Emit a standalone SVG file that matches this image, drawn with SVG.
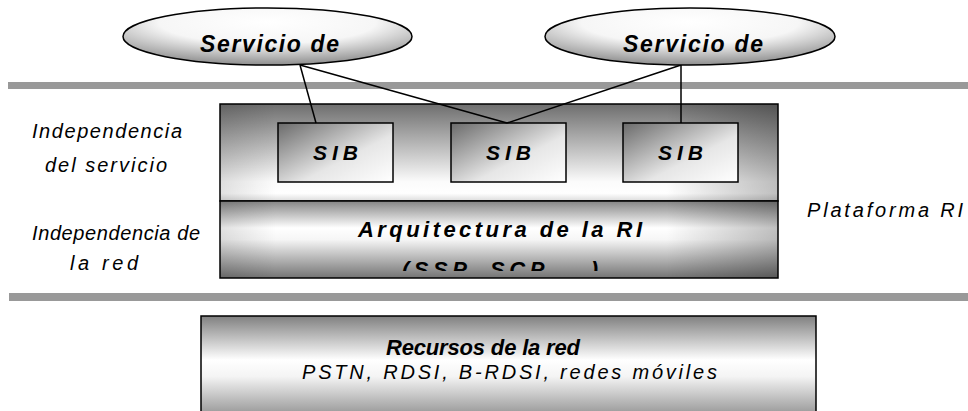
<svg xmlns="http://www.w3.org/2000/svg" width="968" height="411" viewBox="0 0 968 411">
  <style>
    .t { font-family: "Liberation Sans", "DejaVu Sans", sans-serif; font-style: italic; fill: #000; }
    .b { font-weight: bold; }
    .edge { stroke: #000; stroke-width: 1.5; fill: none; }
    .frame { stroke: #000; stroke-width: 1.5; }
    .bar { fill: #999; }
  </style>
  <defs>
    <radialGradient id="gEllipse" cx="50%" cy="25%" r="75%">
      <stop offset="0" stop-color="#ffffff"/>
      <stop offset="0.5" stop-color="#f6f6f6"/>
      <stop offset="1" stop-color="#8e8e8e"/>
    </radialGradient>
    <linearGradient id="gUpper" x1="0" y1="0" x2="0" y2="1">
      <stop offset="0" stop-color="#6e6e6e"/>
      <stop offset="0.45" stop-color="#bdbdbd"/>
      <stop offset="0.8" stop-color="#fbfbfb"/>
      <stop offset="0.92" stop-color="#ffffff"/>
      <stop offset="1" stop-color="#dcdcdc"/>
    </linearGradient>
    <linearGradient id="gBand" x1="0" y1="0" x2="0" y2="1">
      <stop offset="0" stop-color="#858585"/>
      <stop offset="0.35" stop-color="#ffffff"/>
      <stop offset="0.5" stop-color="#f6f6f6"/>
      <stop offset="1" stop-color="#747474"/>
    </linearGradient>
    <linearGradient id="gBottom" x1="0" y1="0" x2="0" y2="1">
      <stop offset="0" stop-color="#808080"/>
      <stop offset="0.4" stop-color="#ffffff"/>
      <stop offset="0.55" stop-color="#f4f4f4"/>
      <stop offset="1" stop-color="#7c7c7c"/>
    </linearGradient>
    <linearGradient id="gSide" x1="0" y1="0" x2="1" y2="0">
      <stop offset="0" stop-color="#000" stop-opacity="0.12"/>
      <stop offset="0.1" stop-color="#000" stop-opacity="0"/>
      <stop offset="0.8" stop-color="#000" stop-opacity="0"/>
      <stop offset="1" stop-color="#000" stop-opacity="0.25"/>
    </linearGradient>
    <linearGradient id="gSib" x1="0" y1="0" x2="1" y2="1">
      <stop offset="0" stop-color="#6a6a6a"/>
      <stop offset="0.6" stop-color="#e6e6e6"/>
      <stop offset="1" stop-color="#ffffff"/>
    </linearGradient>
    <clipPath id="clipArch">
      <rect x="221" y="202" width="556" height="69"/>
    </clipPath>
  </defs>

  <!-- separator bars -->
  <rect class="bar" x="8" y="82" width="960" height="7"/>
  <rect class="bar" x="9" y="293" width="959" height="8"/>

  <!-- side labels -->
  <text class="t" x="32" y="138" font-size="20" textLength="150" lengthAdjust="spacing">Independencia</text>
  <text class="t" x="45" y="172" font-size="20" textLength="122" lengthAdjust="spacing">del servicio</text>
  <text class="t" x="32" y="240" font-size="20" textLength="168" lengthAdjust="spacing">Independencia de</text>
  <text class="t" x="70" y="270" font-size="20" textLength="68" lengthAdjust="spacing">la red</text>
  <text class="t" x="807" y="217" font-size="20" textLength="156" lengthAdjust="spacing">Plataforma RI</text>

  <!-- platform: service layer -->
  <g id="service-layer">
    <rect x="220" y="104" width="558" height="97" fill="url(#gUpper)"/>
    <rect x="220" y="104" width="558" height="97" fill="url(#gSide)" class="frame"/>
  </g>

  <!-- platform: architecture layer -->
  <g id="architecture">
    <rect x="220" y="201" width="558" height="77" fill="url(#gBand)"/>
    <rect x="220" y="201" width="558" height="77" fill="url(#gSide)" class="frame"/>
    <text class="t b" x="358" y="237" font-size="22" textLength="284" lengthAdjust="spacing">Arquitectura de la RI</text>
    <g clip-path="url(#clipArch)">
      <text class="t b" x="402" y="277" font-size="22" textLength="196" lengthAdjust="spacing">(SSP, SCP ...)</text>
    </g>
  </g>

  <!-- service independent building blocks -->
  <g id="sib-1">
    <rect x="278" y="123" width="115" height="59" fill="url(#gSib)" class="frame"/>
    <text class="t b" x="313" y="160" font-size="21" textLength="45" lengthAdjust="spacing">SIB</text>
  </g>
  <g id="sib-2">
    <rect x="451" y="123" width="115" height="59" fill="url(#gSib)" class="frame"/>
    <text class="t b" x="486" y="160" font-size="21" textLength="45" lengthAdjust="spacing">SIB</text>
  </g>
  <g id="sib-3">
    <rect x="623" y="123" width="115" height="59" fill="url(#gSib)" class="frame"/>
    <text class="t b" x="658" y="160" font-size="21" textLength="45" lengthAdjust="spacing">SIB</text>
  </g>

  <!-- network resources -->
  <g id="resources">
    <rect x="201" y="316" width="615" height="110" fill="url(#gBottom)" class="frame"/>
    <text class="t b" x="386" y="355" font-size="22" textLength="194" lengthAdjust="spacing">Recursos de la red</text>
    <text class="t" x="302" y="379" font-size="20" textLength="415" lengthAdjust="spacing">PSTN, RDSI, B-RDSI, redes móviles</text>
  </g>

  <!-- connectors -->
  <g id="connectors">
    <line class="edge" x1="300" y1="65" x2="316" y2="123"/>
    <line class="edge" x1="300" y1="65" x2="507" y2="123"/>
    <line class="edge" x1="681" y1="65" x2="507" y2="123"/>
    <line class="edge" x1="681" y1="65" x2="681" y2="123"/>
  </g>

  <!-- services -->
  <g id="service-1">
    <ellipse cx="267.5" cy="36.5" rx="144.5" ry="28.5" fill="url(#gEllipse)" class="frame"/>
    <text class="t b" x="200" y="52" font-size="23" textLength="139" lengthAdjust="spacing">Servicio de</text>
  </g>
  <g id="service-2">
    <ellipse cx="690" cy="36.5" rx="145" ry="28.5" fill="url(#gEllipse)" class="frame"/>
    <text class="t b" x="623" y="52" font-size="23" textLength="140" lengthAdjust="spacing">Servicio de</text>
  </g>
</svg>
